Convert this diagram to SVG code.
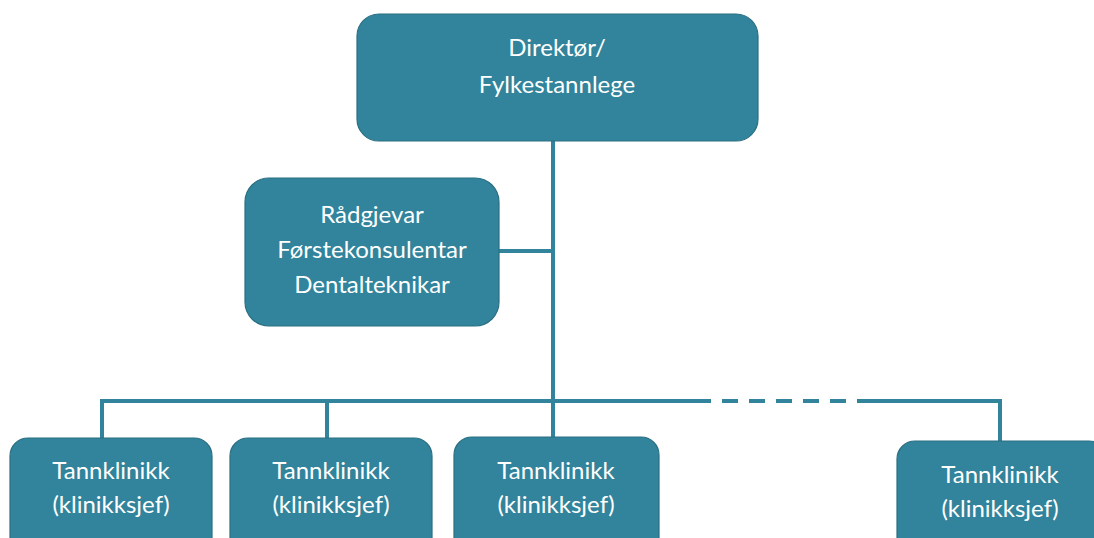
<svg xmlns="http://www.w3.org/2000/svg" width="1094" height="538" viewBox="0 0 1094 538">
<style>
.box{fill:#31849B;stroke:#2A6F82;stroke-width:1.2}
.t{font-family:Lato,"Open Sans",sans-serif;font-size:24px;fill:#ffffff;text-anchor:middle}
.c{stroke:#31849B;stroke-width:4;fill:none}
</style>
<rect width="1094" height="538" fill="#ffffff"/>
<g id="connectors">
<line class="c" x1="553" y1="141" x2="553" y2="439"/>
<line class="c" x1="499" y1="251" x2="553" y2="251"/>
<polyline class="c" points="102,438 102,401 711,401"/>
<line class="c" x1="327" y1="401" x2="327" y2="438"/>
<line class="c" x1="711" y1="401" x2="857" y2="401" stroke-dasharray="16 11" stroke-dashoffset="-11"/>
<polyline class="c" points="857,401 1000,401 1000,441"/>
</g>
<g id="director">
<rect class="box" x="357" y="14" width="401" height="127" rx="22"/>
<text class="t" x="557" y="56">Direktør/</text>
<text class="t" x="557" y="93">Fylkestannlege</text>
</g>
<g id="staff">
<rect class="box" x="245" y="178" width="254" height="148" rx="24"/>
<text class="t" x="372" y="223">Rådgjevar</text>
<text class="t" x="372" y="258">Førstekonsulentar</text>
<text class="t" x="372" y="293">Dentalteknikar</text>
</g>
<g id="clinic1">
<rect class="box" x="10" y="438" width="202" height="120" rx="18"/>
<text class="t" x="111" y="479">Tannklinikk</text>
<text class="t" x="111" y="513">(klinikksjef)</text>
</g>
<g id="clinic2">
<rect class="box" x="230" y="438" width="202" height="120" rx="18"/>
<text class="t" x="331" y="479">Tannklinikk</text>
<text class="t" x="331" y="513">(klinikksjef)</text>
</g>
<g id="clinic3">
<rect class="box" x="454" y="437" width="205" height="120" rx="18"/>
<text class="t" x="556" y="479">Tannklinikk</text>
<text class="t" x="556" y="513">(klinikksjef)</text>
</g>
<g id="clinic4">
<rect class="box" x="897" y="441" width="210" height="120" rx="18"/>
<text class="t" x="1000" y="483">Tannklinikk</text>
<text class="t" x="1000" y="517">(klinikksjef)</text>
</g>
</svg>
